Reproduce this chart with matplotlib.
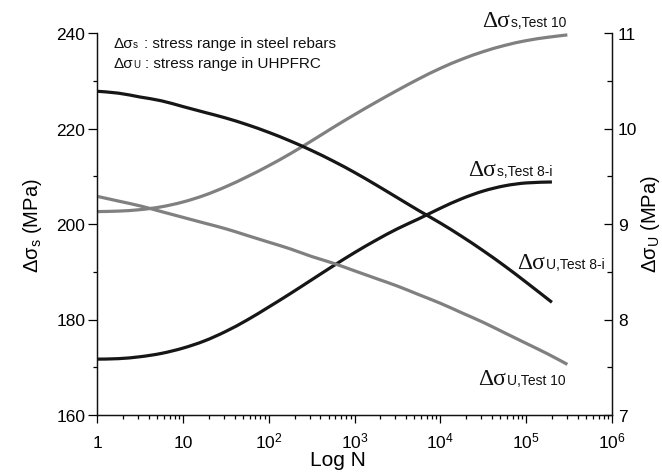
import matplotlib
matplotlib.use("Agg")
import matplotlib.pyplot as plt
import numpy as np
from matplotlib.ticker import FixedLocator, FixedFormatter, MultipleLocator, NullFormatter
from matplotlib.transforms import IdentityTransform
from matplotlib.path import Path
from matplotlib.patches import PathPatch

plt.rcParams['font.family'] = ['Liberation Sans', 'DejaVu Sans']
plt.rcParams['mathtext.fontset'] = 'custom'
plt.rcParams['mathtext.rm'] = 'Liberation Sans'
plt.rcParams['mathtext.it'] = 'Liberation Sans'
plt.rcParams['mathtext.bf'] = 'Liberation Sans:bold'

# ---- data: log10(N) and stress ranges ----
logn_s8 = [0, 0.25, 0.5, 0.75, 1.0, 1.25, 1.5, 1.75, 2.0, 2.25, 2.5, 2.75, 3.0,
           3.25, 3.5, 3.75, 4.0, 4.25, 4.5, 4.75, 5.0, 5.3]
sig_s_test8 = [171.7, 171.8, 172.2, 172.9, 174.0, 175.5, 177.5, 179.9, 182.6, 185.4,
               188.3, 191.2, 194.0, 196.6, 199.0, 201.1, 203.3, 205.3, 206.9, 208.0,
               208.6, 208.8]

logn_s10 = [0, 0.25, 0.5, 0.75, 1.0, 1.25, 1.5, 1.75, 2.0, 2.25, 2.5, 2.75, 3.0,
            3.25, 3.5, 3.75, 4.0, 4.25, 4.5, 4.75, 5.0, 5.25, 5.48]
sig_s_test10 = [202.6, 202.7, 203.0, 203.6, 204.6, 206.0, 207.8, 209.9, 212.2, 214.7,
                217.4, 220.2, 222.9, 225.5, 228.0, 230.4, 232.6, 234.5, 236.1, 237.4,
                238.4, 239.1, 239.6]

logn_u8 = [0, 0.25, 0.5, 0.75, 1.0, 1.25, 1.5, 1.75, 2.0, 2.25, 2.5, 2.75, 3.0,
           3.25, 3.5, 3.75, 4.0, 4.25, 4.5, 4.75, 5.0, 5.3]
sig_u_test8 = [10.39, 10.37, 10.33, 10.29, 10.23, 10.17, 10.11, 10.04, 9.96, 9.87,
               9.77, 9.66, 9.54, 9.41, 9.275, 9.14, 9.01, 8.87, 8.72, 8.56, 8.39, 8.18]

logn_u10 = [0, 0.25, 0.5, 0.75, 1.0, 1.25, 1.5, 1.75, 2.0, 2.25, 2.5, 2.75, 3.0,
            3.25, 3.5, 3.75, 4.0, 4.25, 4.5, 4.75, 5.0, 5.25, 5.48]
sig_u_test10 = [9.29, 9.24, 9.19, 9.13, 9.07, 9.01, 8.95, 8.88, 8.81, 8.74, 8.66, 8.59,
                8.51, 8.43, 8.35, 8.26, 8.17, 8.07, 7.97, 7.86, 7.75, 7.64, 7.53]

x_ticks = [1, 10, 100, 1e3, 1e4, 1e5, 1e6]
x_ticklabels = ['1', '10', r'$10^2$', r'$10^3$', r'$10^4$', r'$10^5$', r'$10^6$']

BLACK = '#161616'
GRAY = '#808080'

W, H = 662, 477
fig = plt.figure(figsize=(W / 100, H / 100), dpi=100)
ax = fig.add_axes([97 / W, 61 / H, 515 / W, 382 / H])
ax2 = ax.twinx()

ax.set_xscale('log')
ax.set_xlim(1, 1e6)
ax.set_ylim(160, 240)
ax2.set_ylim(7, 11)


def smooth_curve(target, logx, y, color, lw=2.3):
    """Draw a smooth (Catmull-Rom as cubic Bezier) line through the points."""
    pts = np.column_stack([logx, y]).astype(float)
    verts = [pts[0]]
    codes = [Path.MOVETO]
    n = len(pts)
    for i in range(n - 1):
        p0 = pts[i - 1] if i > 0 else pts[i]
        p1, p2 = pts[i], pts[i + 1]
        p3 = pts[i + 2] if i + 2 < n else pts[i + 1]
        verts += [p1 + (p2 - p0) / 6.0, p2 - (p3 - p1) / 6.0, p2]
        codes += [Path.CURVE4] * 3
    verts = np.array(verts)
    verts[:, 0] = 10 ** verts[:, 0]
    patch = PathPatch(Path(verts, codes), facecolor='none', edgecolor=color,
                      lw=lw, capstyle='butt', joinstyle='round')
    target.add_patch(patch)


smooth_curve(ax, logn_s10, sig_s_test10, GRAY)
smooth_curve(ax, logn_s8, sig_s_test8, BLACK)
smooth_curve(ax2, logn_u10, sig_u_test10, GRAY)
smooth_curve(ax2, logn_u8, sig_u_test8, BLACK)

for a in (ax, ax2):
    a.spines['top'].set_visible(False)
    for s in a.spines.values():
        s.set_linewidth(0.9)
        s.set_color('#111111')

# x axis ticks
minor = [m * 10 ** e for e in range(6) for m in range(2, 10)]
ax.xaxis.set_major_locator(FixedLocator(x_ticks))
ax.xaxis.set_major_formatter(FixedFormatter(x_ticklabels))
ax.xaxis.set_minor_locator(FixedLocator(minor))
ax.xaxis.set_minor_formatter(NullFormatter())
ax.tick_params(axis='x', which='major', direction='out', length=6, width=0.9,
               labelsize=12.5, pad=17)
ax.tick_params(axis='x', which='minor', direction='out', length=3.2, width=0.9)
for lab in ax.get_xticklabels():
    lab.set_verticalalignment('baseline')

# left y axis
ax.yaxis.set_major_locator(MultipleLocator(20))
ax.yaxis.set_minor_locator(MultipleLocator(10))
ax.tick_params(axis='y', which='major', direction='out', length=6.5, width=0.9,
               labelsize=12.5, pad=2)
ax.tick_params(axis='y', which='minor', direction='out', length=3.2, width=0.9)

# right y axis
ax2.yaxis.set_major_locator(MultipleLocator(1))
ax2.yaxis.set_minor_locator(MultipleLocator(0.5))
ax2.tick_params(axis='y', which='major', direction='in', length=6, width=0.9,
                labelsize=12.5, pad=4.3)
ax2.tick_params(axis='y', which='minor', direction='in', length=3.5, width=0.9)

# axis titles
ax.set_xlabel('Log N', fontsize=15)
ax.xaxis.label.set_verticalalignment('center')
ax.xaxis.set_label_coords(0.468, (416 - 461) / 382)
ax.set_ylabel(r'Δσ$_\mathrm{s}$ (MPa)', fontsize=14.5)
ax.yaxis.label.set_verticalalignment('center')
ax.yaxis.set_label_coords((33 - 97) / 515, (416 - 226) / 382)
ax2.set_ylabel(r'Δσ$_\mathrm{U}$ (MPa)', fontsize=14.5)
ax2.yaxis.label.set_verticalalignment('center')
ax2.yaxis.set_label_coords((650 - 97) / 515, (416 - 224) / 382)

renderer = fig.canvas.get_renderer()


def chained_text(x, y_top, parts):
    """Draw text pieces one after another on a shared baseline (pixel coords)."""
    for s, size, family, gap in parts:
        t = fig.text(x, H - y_top, s, fontsize=size, family=family,
                     transform=IdentityTransform(), ha='left', va='baseline',
                     color='#111111')
        x += t.get_window_extent(renderer).width + gap


SANS = ['Liberation Sans', 'DejaVu Sans']
SERIF = ['Liberation Serif', 'DejaVu Serif']

# notes in the upper left corner
chained_text(113, 48, [('Δσ', 11, SANS, 0.5), ('s', 7, SANS, 6),
                       (': stress range in steel rebars', 11, SANS, 0)])
chained_text(113, 68, [('Δσ', 11, SANS, 0.5), ('U', 7, SANS, 5),
                       (': stress range in UHPFRC', 11, SANS, 0)])

# curve labels
chained_text(482, 27, [('Δσ', 17, SERIF, 1), ('s,Test 10', 10, SANS, 0)])
chained_text(468, 176, [('Δσ', 17, SERIF, 1), ('s,Test 8-i', 10, SANS, 0)])
chained_text(517, 269, [('Δσ', 17, SERIF, 1), ('U,Test 8-i', 10, SANS, 0)])
chained_text(478, 385, [('Δσ', 17, SERIF, 1), ('U,Test 10', 10, SANS, 0)])

fig.savefig('out.png', dpi=100)
